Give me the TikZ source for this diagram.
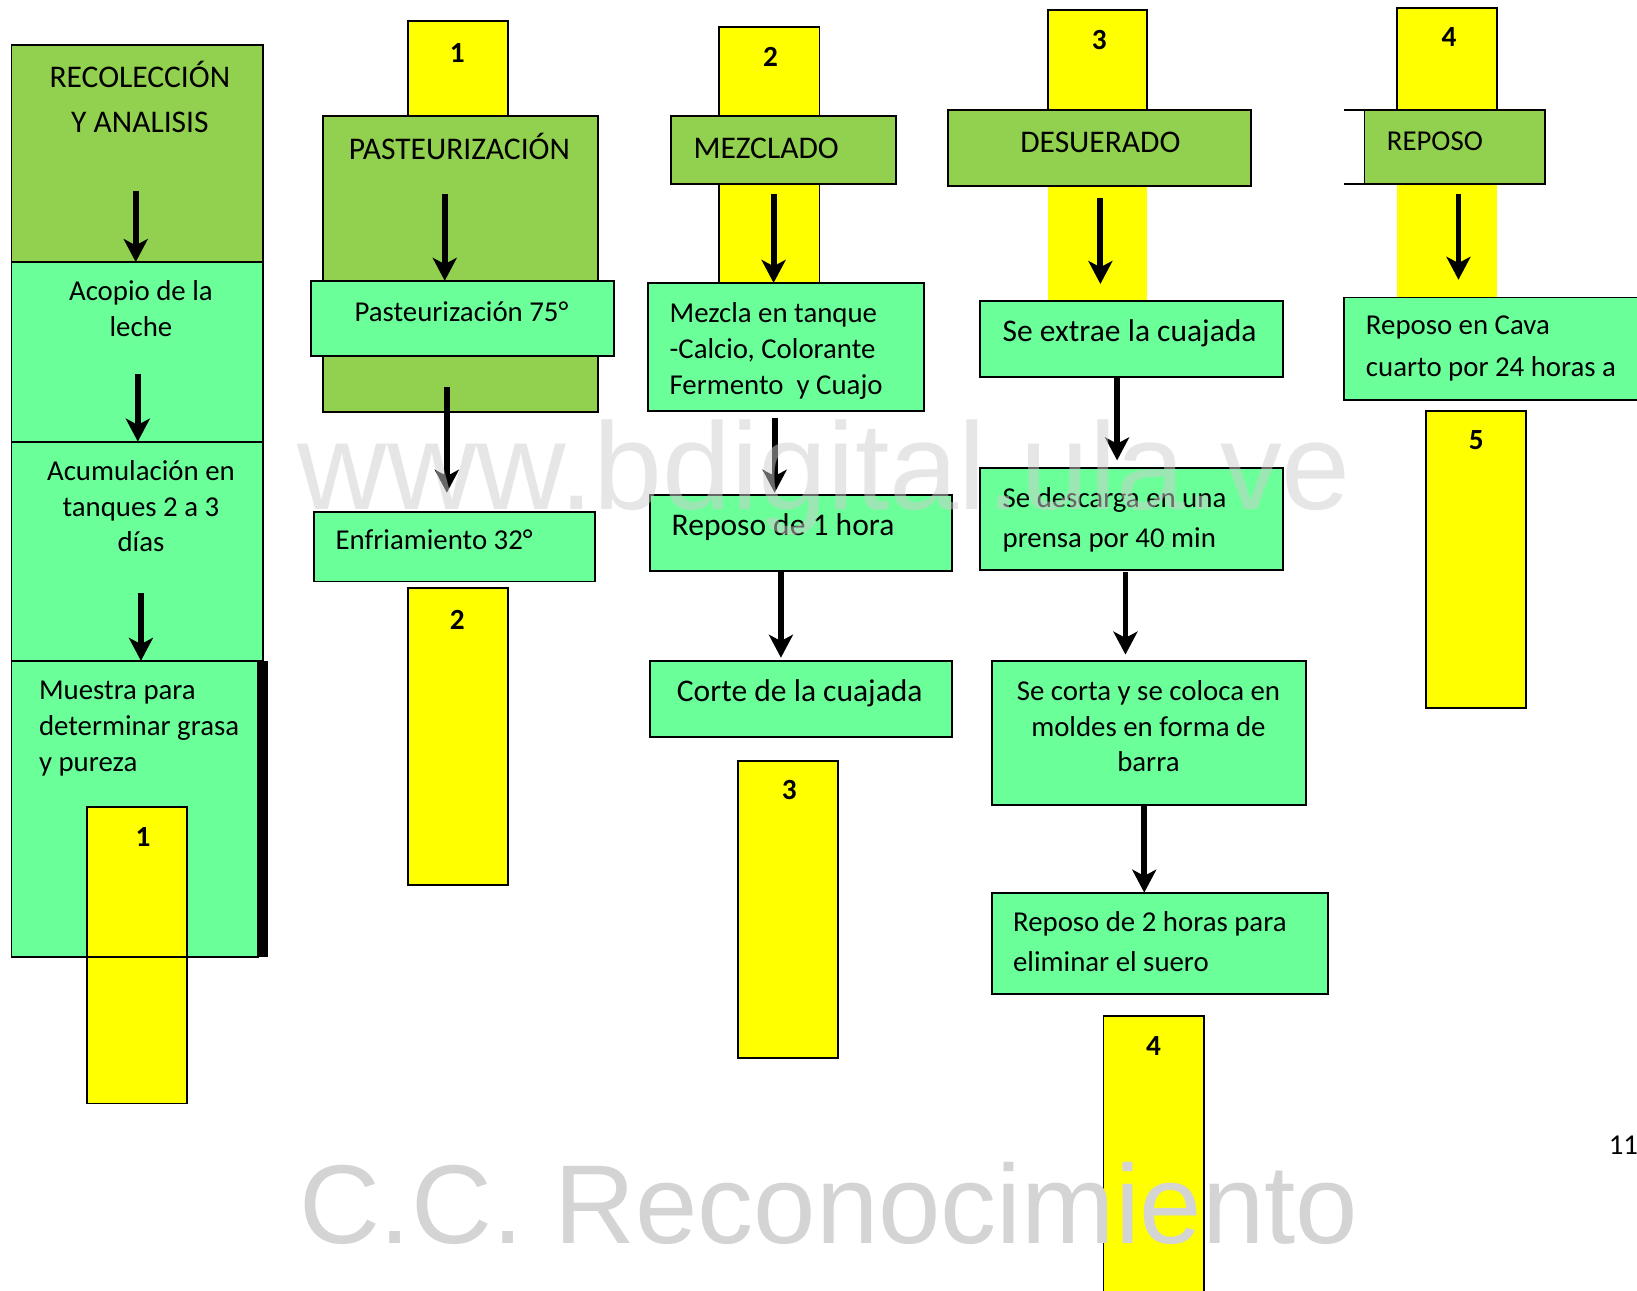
\documentclass[tikz,border=0pt]{standalone}
\usepackage{fontspec}
\setmainfont{Carlito}
\newfontfamily\wmfont{Liberation Sans}
\usetikzlibrary{arrows.meta}
\definecolor{dkg}{HTML}{92D050}
\definecolor{ltg}{HTML}{6AFF98}
\definecolor{yel}{HTML}{FFFF00}
\definecolor{wmgray}{HTML}{D4D4D4}
\definecolor{wmgrayb}{HTML}{CFCFCF}
\newcommand\mkbox[6]{\node[#6, minimum width={(#4-#2)*0.5pt}, minimum height={(#5-#3)*0.5pt}] (#1) at ({(#2+#4)/2},{(#3+#5)/2}) {};}
\tikzset{
  boxb/.style={rectangle, draw=black, line width=0.9pt, inner sep=0pt, outer sep=0pt},
  dk/.style={boxb, fill=dkg},
  lt/.style={boxb, fill=ltg},
  yb/.style={boxb, fill=yel},
  yn/.style={rectangle, fill=yel, draw=none, inner sep=0pt, outer sep=0pt},
  blk/.style={rectangle, fill=black, draw=none, inner sep=0pt, outer sep=0pt},
  arr/.style={line width=2.8pt, -{Stealth[length=11pt, width=11.5pt, inset=3pt]}},
  tx/.style={inner sep=0pt, yshift=-2pt, font=\fontsize{13.8}{16}\selectfont},
  tl/.style={inner sep=0pt, yshift=-2pt, font=\fontsize{15.1}{18}\selectfont},
  ts/.style={inner sep=0pt, yshift=-2pt, font=\fontsize{13.8}{16}\selectfont},
  num/.style={inner sep=0pt, yshift=-2pt, font=\fontsize{14}{16}\selectfont\bfseries},
}
\begin{document}
\begin{tikzpicture}[x=0.5pt, y=-0.5pt]
\fill[white] (0,0) rectangle (1568,1236);
\useasboundingbox (0,0) rectangle (1568,1236);

% ---------- yellow boxes (behind) ----------
\mkbox{y2a}{391}{20}{487}{112}{yb}
\mkbox{y3a}{689}{26}{785}{272}{yb}
\mkbox{y4a}{1004}{10}{1099}{106}{yb}
\mkbox{y4b}{1004}{178}{1099}{288}{yn}
\mkbox{y5a}{1338}{8}{1434}{106}{yb}
\mkbox{y5b}{1338}{176}{1434}{285}{yn}

% ---------- column 1 ----------
\mkbox{reco}{11}{43}{252}{251}{dk}
\mkbox{acop}{11}{251}{252}{423}{lt}
\mkbox{acum}{11}{423}{252}{633}{lt}
\mkbox{mues}{11}{633}{247}{917}{lt}
\mkbox{bar}{247}{633}{257}{917}{blk}
\mkbox{y1}{83}{773}{179}{1057}{yb}
\draw[line width=0.9pt] (y1.west |- mues.south) -- (y1.east |- mues.south);

\node[tl, anchor=mid] (t1a) at (134,75) {RECOLECCIÓN};
\node[tl, anchor=mid] (t1b) at (134,118) {Y ANALISIS};
\node[tx, anchor=mid] (t2a) at (135,279) {Acopio de la};
\node[tx, anchor=mid] (t2b) at (135,314) {leche};
\node[tx, anchor=mid] (t3a) at (135,451) {Acumulación en};
\node[tx, anchor=mid] (t3b) at (135,486) {tanques 2 a 3};
\node[tx, anchor=mid] (t3c) at (135,519) {días};
\node[tx, anchor=mid west] (t4a) at (37,661) {Muestra para};
\node[tx, anchor=mid west] (t4b) at (37,696) {determinar grasa};
\node[tx, anchor=mid west] (t4c) at (37,730) {y pureza};
\node[num, anchor=mid] (n1) at (137,802) {1};

\coordinate (a1) at (130,183);
\draw[arr] (a1) -- (a1 |- acop.north);
\coordinate (a2) at (132,358);
\draw[arr] (a2) -- (a2 |- acum.north);
\coordinate (a3) at (135,568);
\draw[arr] (a3) -- (a3 |- mues.north);

% ---------- column 2 ----------
\mkbox{past}{309}{111}{573}{395}{dk}
\mkbox{p75}{298}{269}{588}{341}{lt}
\mkbox{enfr}{301}{490}{570}{557}{lt}
\mkbox{y2b}{391}{563}{487}{848}{yb}
\node[num, anchor=mid] (n2a) at (438,51) {1};
\node[tl, anchor=mid] (tp) at (440,144) {PASTEURIZACIÓN};
\node[ts, anchor=mid] (tp75) at (442,299) {Pasteurización 75°};
\node[tx, anchor=mid west] (ten) at (321,518) {Enfriamiento 32°};
\node[num, anchor=mid] (n2b) at (438,594) {2};
\coordinate (b1) at (426,186);
\draw[arr] (b1) -- (b1 |- p75.north);
\coordinate (b2) at (428,371);
\coordinate (b2e) at (428,472);
\draw[arr] (b2) -- (b2e);

% ---------- column 3 ----------
\mkbox{mezc}{643}{111}{858}{176}{dk}
\mkbox{mzt}{621}{271}{885}{394}{lt}
\mkbox{rep1}{623}{474}{912}{547}{lt}
\mkbox{cort}{623}{633}{912}{706}{lt}
\mkbox{y3b}{707}{729}{803}{1013}{yb}
\node[num, anchor=mid] (n3a) at (738,55) {2};
\node[tl, anchor=mid west] (tmz) at (664,143) {MEZCLADO};
\node[ts, anchor=mid west] (tm1) at (641,300) {Mezcla en tanque};
\node[ts, anchor=mid west] (tm2) at (641,335) {-Calcio, Colorante};
\node[ts, anchor=mid west] (tm3) at (641,369) {Fermento\ \ y Cuajo};
\node[tl, anchor=mid west] (tr1) at (643,504) {Reposo de 1 hora};
\node[tl, anchor=mid west] (tco) at (648,663) {Corte de la cuajada};
\node[num, anchor=mid] (n3b) at (756,757) {3};
\coordinate (c1) at (741,186);
\draw[arr] (c1) -- (c1 |- mzt.north);
\coordinate (c2) at (742,400);
\draw[arr] (c2) -- (742,472);
\coordinate (c3) at (748,548);
\draw[arr] (c3) -- (748,630);

% ---------- column 4 ----------
\mkbox{desu}{908}{105}{1198}{178}{dk}
\mkbox{extr}{939}{288}{1229}{361}{lt}
\mkbox{desc}{939}{448}{1229}{546}{lt}
\mkbox{ccor}{950}{633}{1251}{771}{lt}
\mkbox{rep2}{950}{855}{1272}{952}{lt}
\mkbox{y4c}{1057}{973}{1153}{1250}{yb}
\node[num, anchor=mid] (n4a) at (1053,39) {3};
\node[tl, anchor=mid] (tde) at (1054,137) {DESUERADO};
\node[tl, anchor=mid west] (tex) at (960,318) {Se extrae la cuajada};
\node[tx, anchor=mid west] (td1) at (960,477) {Se descarga en una};
\node[tx, anchor=mid west] (td2) at (960,516) {prensa por 40 min};
\node[tx, anchor=mid] (tc1) at (1100,662) {Se corta y se coloca en};
\node[tx, anchor=mid] (tc2) at (1100,697) {moldes en forma de};
\node[tx, anchor=mid] (tc3) at (1100,730) {barra};
\node[tx, anchor=mid west] (tr21) at (970,883) {Reposo de 2 horas para};
\node[tx, anchor=mid west] (tr22) at (970,922) {eliminar el suero};
\node[num, anchor=mid] (n4b) at (1105,1002) {4};
\coordinate (d1) at (1054,190);
\draw[arr] (d1) -- (1054,272);
\coordinate (d2) at (1070,362);
\draw[arr] (d2) -- (1070,441);
\coordinate (d3) at (1078,548);
\draw[arr] (d3) -- (1078,627);
\coordinate (d4) at (1096,771);
\draw[arr] (d4) -- (d4 |- rep2.north);

% ---------- column 5 ----------
\mkbox{repo}{1307}{105}{1480}{176}{dk}
\coordinate (rl1) at (1287,105);
\coordinate (rl2) at (1287,176);
\draw[line width=0.9pt] (rl1) -- (repo.north west);
\draw[line width=0.9pt] (rl2) -- (repo.south west);
\mkbox{cava}{1287}{285}{1580}{383}{lt}
\mkbox{y5c}{1366}{394}{1462}{678}{yb}
\node[num, anchor=mid] (n5a) at (1388,36) {4};
\node[tx, anchor=mid west] (trp) at (1328,135) {REPOSO};
\node[tx, anchor=mid west] (tcv1) at (1308,312) {Reposo en Cava};
\node[tx, anchor=mid west] (tcv2) at (1308,352) {cuarto por 24 horas a};
\node[num, anchor=mid] (n5b) at (1414,422) {5};
\coordinate (e1) at (1397,186);
\draw[arr] (e1) -- (1397,268);

% ---------- page number ----------
\node[tx, anchor=mid] (pg) at (1555,1097) {11};

% ---------- watermarks ----------
\node[anchor=base west, inner sep=0pt, text=wmgrayb, text opacity=0.5] (wm1) at (285,488) {\wmfont\fontsize{59.3}{60}\selectfont www.bdigital.ula.ve};
\node[anchor=base west, inner sep=0pt, text=wmgray] (wm2) at (286,1191) {\wmfont\fontsize{53.7}{60}\selectfont C.C. Reconocimiento};
\end{tikzpicture}
\end{document}
